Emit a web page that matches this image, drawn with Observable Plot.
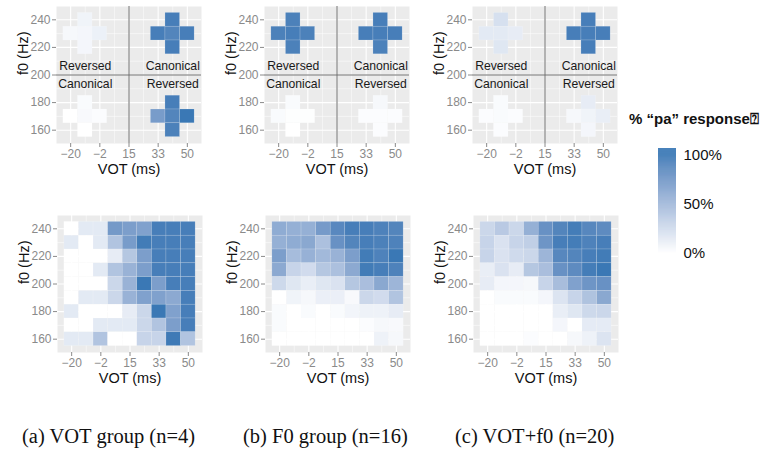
<!DOCTYPE html>
<html><head><meta charset="utf-8">
<script src="https://cdn.jsdelivr.net/npm/d3@7"></script>
<script src="https://cdn.jsdelivr.net/npm/@observablehq/plot@0.6"></script>
<style>
body{margin:0;background:#fff;width:779px;height:452px;overflow:hidden;position:relative;font-family:"Liberation Sans",Arial,sans-serif}
.p{position:absolute}
.cap{position:absolute;font-family:"Liberation Serif","Times New Roman",serif;font-size:20.5px;line-height:24px;color:#111;white-space:nowrap}
.lt{position:absolute;font-family:"Liberation Sans",Arial,sans-serif;font-weight:bold;font-size:15px;line-height:20px;color:#111;white-space:nowrap}
</style></head><body>
<script>
// ---------- data ----------
const vot = [-20, -11.25, -2.5, 6.25, 15, 23.75, 32.5, 41.25, 50];
const f0 = [160, 170, 180, 190, 200, 210, 220, 230, 240];
const votTickValues = [-20, -2.5, 15, 32.5, 50];
const votTickLabels = ["\u221220", "\u22122", "15", "33", "50"];
const f0TickValues = [160, 180, 200, 220, 240];
const boundaryVot = 15;
const boundaryF0 = 200;

// top row: cross-shaped stimulus sets (UL, UR, LL, LR; each top,left,center,right,bottom)
const stimVot = [-11.25, -20, -11.25, -2.5, -11.25,  41.25, 32.5, 41.25, 50, 41.25,
                 -11.25, -20, -11.25, -2.5, -11.25,  41.25, 32.5, 41.25, 50, 41.25];
const stimF0  = [240, 230, 230, 230, 220,  240, 230, 230, 230, 220,
                 180, 170, 170, 170, 160,  180, 170, 170, 170, 160];
const quadLabels = ["Reversed", "Canonical", "Canonical", "Reversed"];

const topA = [0.08, 0.05, 0.06, 0.10, 0.06,  0.95, 0.95, 0.90, 0.95, 0.95,
              0.03, 0.00, 0.04, 0.02, 0.00,  0.95, 0.72, 0.90, 1.00, 0.93];
const topB = [0.93, 0.93, 0.95, 0.93, 0.93,  0.95, 0.95, 0.95, 0.95, 0.93,
              0.03, 0.03, 0.01, 0.01, 0.00,  0.05, 0.02, 0.02, 0.02, 0.02];
const topC = [0.22, 0.15, 0.15, 0.13, 0.17,  0.95, 0.95, 0.95, 0.95, 0.95,
              0.03, 0.02, 0.03, 0.02, 0.02,  0.13, 0.05, 0.08, 0.12, 0.06];

// bottom row: rows from f0 = 240 (top) down to 160, columns vot -20 .. 50
const heatA = [
  [0.00, 0.15, 0.15, 0.74, 0.70, 0.68, 0.95, 0.95, 0.95],
  [0.15, 0.00, 0.15, 0.42, 0.72, 0.97, 0.95, 0.95, 0.95],
  [0.00, 0.00, 0.00, 0.13, 0.40, 0.70, 0.95, 0.95, 0.95],
  [0.00, 0.00, 0.15, 0.42, 0.55, 0.70, 0.95, 0.95, 0.95],
  [0.00, 0.00, 0.00, 0.28, 0.55, 1.00, 0.70, 0.95, 0.95],
  [0.00, 0.15, 0.15, 0.28, 0.55, 0.68, 0.68, 0.62, 0.95],
  [0.15, 0.00, 0.00, 0.00, 0.13, 0.28, 1.00, 0.68, 0.95],
  [0.00, 0.00, 0.15, 0.15, 0.15, 0.28, 0.42, 0.70, 0.95],
  [0.15, 0.15, 0.42, 0.00, 0.00, 0.30, 0.30, 0.98, 0.42]
];
const heatB = [
  [0.60, 0.57, 0.57, 0.73, 0.87, 0.95, 0.95, 0.92, 0.90],
  [0.57, 0.60, 0.63, 0.45, 0.80, 0.90, 0.95, 0.93, 0.92],
  [0.70, 0.48, 0.56, 0.50, 0.55, 0.70, 0.97, 0.92, 1.00],
  [0.62, 0.30, 0.25, 0.40, 0.45, 0.62, 0.97, 0.95, 0.92],
  [0.27, 0.17, 0.12, 0.17, 0.20, 0.40, 0.46, 0.63, 0.53],
  [0.00, 0.08, 0.05, 0.11, 0.11, 0.04, 0.28, 0.25, 0.42],
  [0.03, 0.00, 0.03, 0.00, 0.03, 0.07, 0.09, 0.09, 0.13],
  [0.03, 0.00, 0.00, 0.00, 0.00, 0.00, 0.02, 0.05, 0.04],
  [0.00, 0.00, 0.00, 0.00, 0.00, 0.00, 0.00, 0.09, 0.05]
];
const heatC = [
  [0.28, 0.38, 0.28, 0.57, 0.80, 0.90, 0.96, 0.88, 0.85],
  [0.30, 0.20, 0.30, 0.34, 0.77, 0.95, 0.96, 0.92, 0.95],
  [0.30, 0.20, 0.26, 0.28, 0.53, 0.88, 0.90, 0.95, 0.97],
  [0.12, 0.20, 0.13, 0.40, 0.46, 0.80, 0.85, 0.96, 1.00],
  [0.13, 0.06, 0.06, 0.05, 0.30, 0.47, 0.68, 0.77, 0.80],
  [0.00, 0.03, 0.03, 0.03, 0.06, 0.19, 0.30, 0.43, 0.63],
  [0.00, 0.00, 0.00, 0.00, 0.00, 0.12, 0.17, 0.27, 0.28],
  [0.00, 0.00, 0.00, 0.00, 0.00, 0.06, 0.00, 0.14, 0.14],
  [0.00, 0.00, 0.00, 0.02, 0.00, 0.00, 0.05, 0.09, 0.19]
];

const captions = ["(a) VOT group (n=4)", "(b) F0 group (n=16)", "(c) VOT+f0 (n=20)"];
const legendTitle = "% \u201cpa\u201d response\u2370";
const legendValues = [0, 0.5, 1];
const legendLabels = ["0%", "50%", "100%"];

// ---------- rendering ----------
const HIGH = "#3a78b5";
const colorScale = {type: "linear", domain: [0, 1], range: ["#ffffff", HIGH], interpolate: "lab", clamp: true};
const hx = (vot[1] - vot[0]) / 2;
const hy = (f0[1] - f0[0]) / 2;
const majorVot = votTickValues;
const minorVot = vot.filter((_, i) => i % 2 === 1);
const minorF0 = f0.filter((_, i) => i % 2 === 1);
const f0Desc = [...f0].reverse();

function heatCells(m) {
  return m.flatMap((row, i) => row.map((p, j) => ({vot: vot[j], f0: f0Desc[i], p})));
}
function stimCells(vals) {
  return vals.map((p, i) => ({vot: stimVot[i], f0: stimF0[i], p}));
}

function panel(cells, top) {
  const marks = [
    Plot.frame({fill: "#EBEBEB", stroke: null}),
    Plot.ruleX(minorVot, {stroke: "white", strokeWidth: 0.5}),
    Plot.ruleY(minorF0, {stroke: "white", strokeWidth: 0.5}),
    Plot.ruleX(majorVot, {stroke: "white", strokeWidth: 1.1}),
    Plot.ruleY(f0TickValues, {stroke: "white", strokeWidth: 1.1}),
    Plot.rect(cells, {
      x1: d => d.vot - hx, x2: d => d.vot + hx,
      y1: d => d.f0 - hy, y2: d => d.f0 + hy,
      fill: "p", stroke: "white", strokeOpacity: 0.3, strokeWidth: 0.5
    })
  ];
  if (top) {
    const quads = quadLabels.map((t, k) => ({
      t, vot: stimVot[k * 5 + 2], upper: stimF0[k * 5 + 2] > boundaryF0
    }));
    marks.push(
      Plot.ruleX([boundaryVot], {stroke: "#6e6e6e", strokeWidth: 1}),
      Plot.ruleY([boundaryF0], {stroke: "#6e6e6e", strokeWidth: 1}),
      Plot.text(quads.filter(d => d.upper), {x: "vot", y: () => boundaryF0, text: "t", dy: -9, fontSize: 12.2, fill: "#1a1a1a"}),
      Plot.text(quads.filter(d => !d.upper), {x: "vot", y: () => boundaryF0, text: "t", dy: 9, fontSize: 12.2, fill: "#1a1a1a"})
    );
  }
  marks.push(
    Plot.axisX({ticks: votTickValues, tickFormat: d => votTickLabels[votTickValues.indexOf(d)],
      tickSize: 4, tickPadding: 2, color: "#8a8a8a", fontSize: 12, label: null}),
    Plot.axisY({ticks: f0TickValues, tickSize: 4, tickPadding: 2, color: "#8a8a8a", fontSize: 12, label: null}),
    Plot.text(["VOT (ms)"], {text: d => d, frameAnchor: "bottom", dy: 30, fontSize: 14.5, fill: "#111"}),
    Plot.text(["f0 (Hz)"], {text: d => d, frameAnchor: "left", dx: -33, rotate: -90, fontSize: 14.5, fill: "#111"})
  );
  return Plot.plot({
    width: 210, height: 190,
    marginLeft: 56, marginRight: 9, marginTop: 6, marginBottom: 47,
    x: {domain: [vot[0] - 8.5, vot[vot.length - 1] + 8.5], axis: null},
    y: {domain: [150.35, 249.65], axis: null},
    color: colorScale,
    style: {fontFamily: "'Liberation Sans', Arial, sans-serif", fontSize: "12px", background: "transparent", overflow: "visible"},
    marks
  });
}

function place(el, left, top) {
  const d = document.createElement("div");
  d.className = "p";
  d.style.left = left + "px";
  d.style.top = top + "px";
  d.appendChild(el);
  document.body.appendChild(d);
}

const tops = [topA, topB, topC];
const heats = [heatA, heatB, heatC];
tops.forEach((t, i) => place(panel(stimCells(t), true), i * 208, 0));
heats.forEach((h, i) => place(panel(heatCells(h), false), i * 208 + 0.5, 209));

// legend
const step = 0.005;
const steps = d3.range(-0.05, 1.07, step);
const legend = Plot.plot({
  width: 150, height: 170,
  marginLeft: 29, marginRight: 103, marginTop: 48, marginBottom: 12,
  x: {domain: [0, 1], axis: null},
  y: {domain: [-0.05, 1.07], axis: null},
  color: colorScale,
  style: {fontFamily: "'Liberation Sans', Arial, sans-serif", background: "transparent", overflow: "visible"},
  marks: [
    Plot.rect(steps, {x1: () => 0, x2: () => 1, y1: d => d, y2: d => Math.min(1.07, d + step * 1.6), fill: d => d + step / 2}),
    Plot.axisY({anchor: "right", ticks: legendValues, tickFormat: d => legendLabels[legendValues.indexOf(d)],
      tickSize: 0, tickPadding: 7, fontSize: 15, color: "#111", label: null})
  ]
});
place(legend, 629, 100);

const lt = document.createElement("div");
lt.className = "lt";
lt.style.left = "629px";
lt.style.top = "109px";
lt.textContent = legendTitle;
document.body.appendChild(lt);

const capX = [22, 243, 455];
captions.forEach((c, i) => {
  const d = document.createElement("div");
  d.className = "cap";
  d.style.left = capX[i] + "px";
  d.style.top = "424px";
  d.textContent = c;
  document.body.appendChild(d);
});
</script>
</body></html>
